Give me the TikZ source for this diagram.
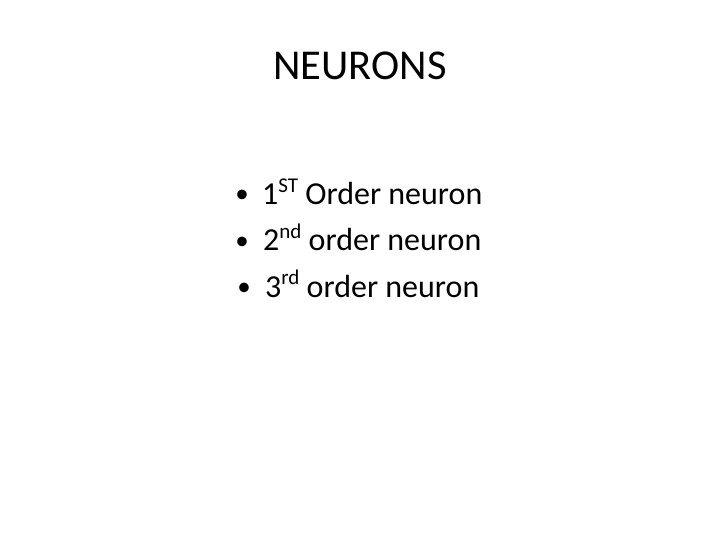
\documentclass[tikz,border=0pt]{standalone}
\usepackage{fontspec}
\setmainfont{Carlito}
\newcommand{\supx}[1]{\raisebox{0.38em}{\fontsize{21}{21}\selectfont #1}}
\begin{document}
\begin{tikzpicture}[x=1pt,y=-1pt,
  titletext/.style={inner sep=0pt,anchor=base,font=\fontsize{42.5}{50}\selectfont},
  itemtext/.style={inner sep=0pt,anchor=base west,font=\fontsize{32}{38}\selectfont},
  bul/.style={inner sep=0pt,anchor=base,font=\fontsize{27}{32}\selectfont}]
\path[fill=white] (0,0) rectangle (720,540);
\useasboundingbox (0,0) rectangle (720,540);
\node[titletext] (title) at (360,80) {NEURONS};
\node[bul] (b1) at (242,203) {•};
\node[itemtext] (t1) at (262,205) {1\supx{ST} Order neuron};
\node[bul] (b2) at (242,249) {•};
\node[itemtext] (t2) at (263,251) {2\supx{nd} order neuron};
\node[bul] (b3) at (244,295) {•};
\node[itemtext] (t3) at (265,297) {3\supx{rd} order neuron};
\end{tikzpicture}
\end{document}
